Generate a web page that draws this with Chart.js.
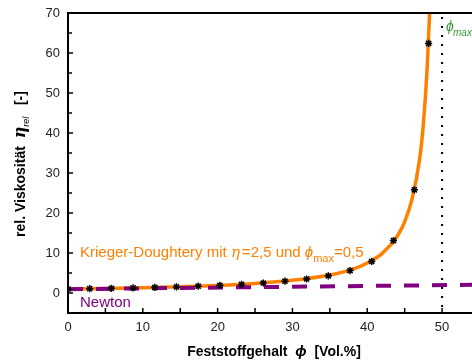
<!DOCTYPE html>
<html>
<head>
<meta charset="utf-8">
<script src="https://cdn.jsdelivr.net/npm/chart.js@4"></script>
<style>
  html, body { margin: 0; padding: 0; background: #fff; }
  #wrap { width: 472px; height: 364px; }
</style>
</head>
<body>
<div id="wrap"><canvas id="visc"></canvas></div>
<script>
// Krieger-Dougherty curve
var phiCurve = [0, 5, 10, 15, 20, 25, 30, 35, 38, 40, 42, 44, 45, 46, 47, 47.5, 48, 48.33];
var etaCurve = [1, 1.14, 1.32, 1.56, 1.89, 2.38, 3.17, 4.5, 5.9, 7.5, 9.9, 14.2, 17.8, 23.6, 33.5, 42.3, 56, 70];

// measured points (stars)
var phiPts = [0, 2.9, 5.8, 8.7, 11.6, 14.5, 17.4, 20.3, 23.2, 26.1, 29, 31.9, 34.8, 37.7, 40.6, 43.5, 46.3, 48.2];
var etaPts = [1, 1.08, 1.16, 1.27, 1.39, 1.53, 1.7, 1.91, 2.15, 2.5, 2.95, 3.5, 4.3, 5.6, 7.9, 13.1, 25.8, 62.4];

// Newton line
var newtonPhi = [0, 54];
var newtonEta = [0.95, 2.05];

var phiMax = 50;
var xTicks = [0, 10, 20, 30, 40, 50];
var yTicks = [0, 10, 20, 30, 40, 50, 60, 70];

function pairs(xs, ys) {
  return xs.map(function(x, i) { return {x: x, y: ys[i]}; });
}

var FONT = '"Liberation Sans", Arial, sans-serif';

var extras = {
  id: 'extras',
  afterDatasetsDraw: function(chart) {
    var ctx = chart.ctx, xs = chart.scales.x, ys = chart.scales.y, a = chart.chartArea;
    ctx.save();

    // dotted phi_max line
    ctx.strokeStyle = '#000';
    ctx.lineWidth = 2;
    ctx.setLineDash([2, 7]);
    var px = xs.getPixelForValue(phiMax);
    ctx.beginPath();
    ctx.moveTo(px, a.top + 4);
    ctx.lineTo(px, a.bottom);
    ctx.stroke();
    ctx.setLineDash([]);

    // inward ticks
    ctx.lineWidth = 1.5;
    for (var v = -5; v <= 70; v += 5) {
      var py = ys.getPixelForValue(v);
      var len = (v % 10 === 0) ? 5 : 4;
      ctx.beginPath();
      ctx.moveTo(a.left, py);
      ctx.lineTo(a.left + len, py);
      ctx.stroke();
    }
    for (var u = 5; u <= 50; u += 5) {
      var qx = xs.getPixelForValue(u);
      ctx.beginPath();
      ctx.moveTo(qx, a.bottom);
      ctx.lineTo(qx, a.bottom - 5);
      ctx.stroke();
    }

    // top border
    ctx.lineWidth = 2;
    ctx.beginPath();
    ctx.moveTo(a.left - 1, a.top);
    ctx.lineTo(a.right, a.top);
    ctx.stroke();

    // phi_max label
    ctx.fillStyle = '#3c9a3c';
    ctx.textBaseline = 'alphabetic';
    ctx.font = 'italic 14px ' + FONT;
    ctx.fillText('\u03d5', 446, 31);
    ctx.font = 'italic 10px ' + FONT;
    ctx.fillText('max', 453, 36);

    // Krieger-Dougherty label
    var x0 = 80, base = 257;
    ctx.fillStyle = '#ff8000';
    ctx.font = '15px ' + FONT;
    var s1 = 'Krieger-Doughtery mit ';
    ctx.fillText(s1, x0, base); x0 += ctx.measureText(s1).width;
    ctx.font = 'italic 15px "DejaVu Serif", serif';
    ctx.fillText('\u03b7', x0, base); x0 += ctx.measureText('\u03b7').width + 2;
    ctx.font = '15px ' + FONT;
    var s2 = '=2,5 und ';
    ctx.fillText(s2, x0, base); x0 += ctx.measureText(s2).width;
    ctx.font = 'italic 15px ' + FONT;
    ctx.fillText('\u03d5', x0, base); x0 += ctx.measureText('\u03d5').width;
    ctx.font = '11px ' + FONT;
    ctx.fillText('max', x0, base + 5); x0 += ctx.measureText('max').width;
    ctx.font = '15px ' + FONT;
    ctx.fillText('=0,5', x0, base);

    // Newton label
    ctx.fillStyle = '#800080';
    ctx.fillText('Newton', 80, 307);

    // x title
    ctx.fillStyle = '#000';
    var parts = [
      ['bold 14px ' + FONT, 'Feststoffgehalt  ', 0],
      ['bold italic 15px ' + FONT, '\u03d5', 0],
      ['bold 14px ' + FONT, '  [Vol.%]', 0]
    ];
    var w = 0;
    parts.forEach(function(p) { ctx.font = p[0]; w += ctx.measureText(p[1]).width; });
    var tx = 274 - w / 2;
    parts.forEach(function(p) { ctx.font = p[0]; ctx.fillText(p[1], tx, 356); tx += ctx.measureText(p[1]).width; });

    // y title (rotated)
    ctx.translate(25, 164);
    ctx.rotate(-Math.PI / 2);
    var yparts = [
      ['bold 14px ' + FONT, 'rel. Viskosit\u00e4t  ', 0],
      ['bold italic 16px "DejaVu Serif", serif', '\u03b7', 0],
      ['italic 9px ' + FONT, 'rel', 4],
      ['bold 14px ' + FONT, '   [-]', 0]
    ];
    w = 0;
    yparts.forEach(function(p) { ctx.font = p[0]; w += ctx.measureText(p[1]).width; });
    tx = -w / 2;
    yparts.forEach(function(p) { ctx.font = p[0]; ctx.fillText(p[1], tx, p[2]); tx += ctx.measureText(p[1]).width; });

    ctx.restore();
  }
};

new Chart(document.getElementById('visc'), {
  type: 'scatter',
  data: {
    datasets: [{
      label: 'Messpunkte',
      data: pairs(phiPts, etaPts),
      pointStyle: 'star',
      pointRadius: 3.6,
      pointBorderWidth: 1.5,
      borderColor: '#000',
      backgroundColor: '#000',
      showLine: false,
      order: 0
    }, {
      label: 'Newton',
      data: pairs(newtonPhi, newtonEta),
      showLine: true,
      borderColor: '#800080',
      borderWidth: 4,
      borderDash: [15, 13],
      pointRadius: 0,
      order: 1
    }, {
      label: 'Krieger-Dougherty',
      data: pairs(phiCurve, etaCurve),
      showLine: true,
      borderColor: '#ff8000',
      borderWidth: 3.5,
      cubicInterpolationMode: 'monotone',
      pointRadius: 0,
      order: 2
    }]
  },
  options: {
    responsive: true,
    maintainAspectRatio: false,
    animation: false,
    layout: { autoPadding: false, padding: { top: 13, right: 0, left: 0, bottom: 0 } },
    plugins: { legend: { display: false }, tooltip: { enabled: false } },
    scales: {
      x: {
        type: 'linear',
        min: 0, max: 54,
        afterBuildTicks: function(s) { s.ticks = xTicks.map(function(v) { return {value: v}; }); },
        afterFit: function(s) { s.height = 51; s.paddingLeft = 0; s.paddingRight = 0; },
        grid: { display: false, drawTicks: false },
        border: { display: true, color: '#000', width: 2 },
        ticks: { font: { family: FONT, size: 13 }, color: '#222', padding: 7, maxRotation: 0 }
      },
      y: {
        type: 'linear',
        min: -5, max: 70,
        afterBuildTicks: function(s) { s.ticks = yTicks.map(function(v) { return {value: v}; }); },
        afterFit: function(s) { s.width = 68; s.paddingTop = 0; s.paddingBottom = 0; },
        grid: { display: false, drawTicks: false },
        border: { display: true, color: '#000', width: 2 },
        ticks: { font: { family: FONT, size: 13 }, color: '#222', padding: 8 }
      }
    }
  },
  plugins: [extras]
});
</script>
</body>
</html>
